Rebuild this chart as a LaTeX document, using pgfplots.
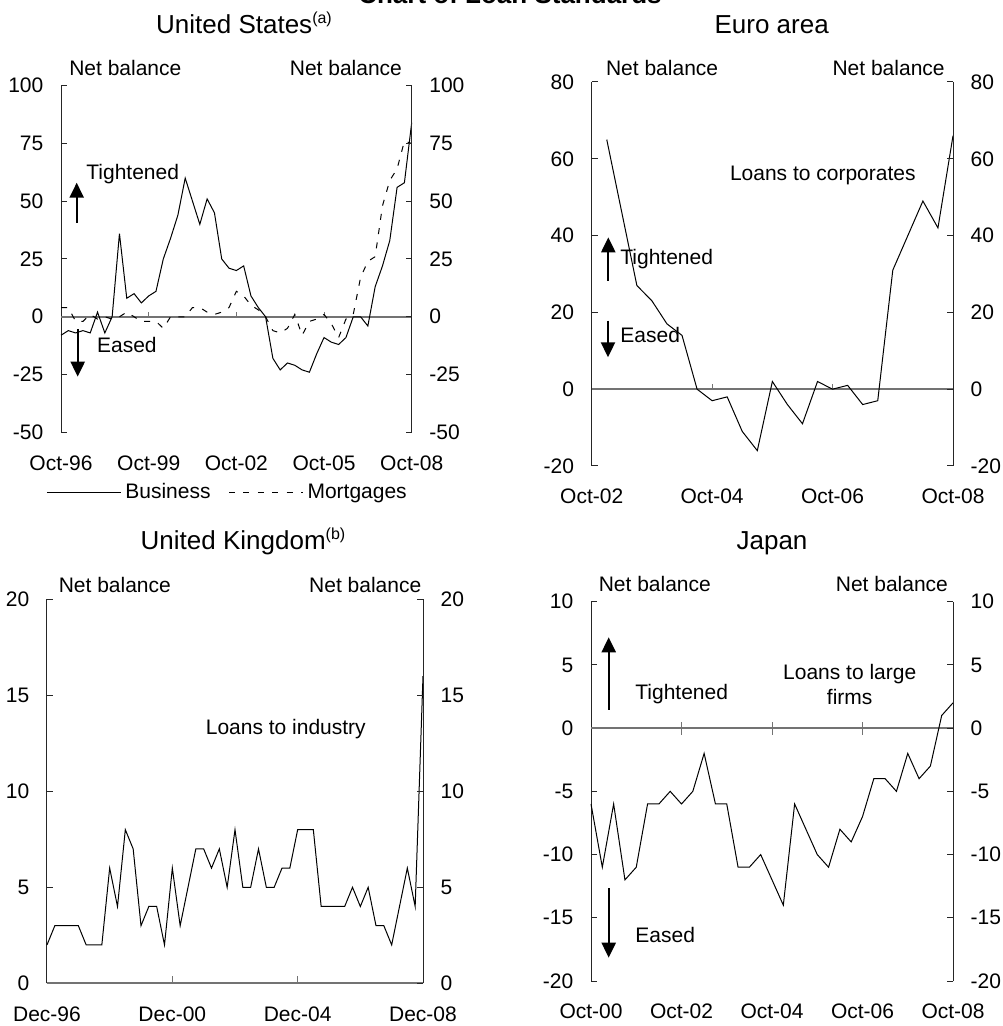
\documentclass[border=0pt]{standalone}
\usepackage{fontspec}
\setmainfont{Liberation Sans}
\usepackage{pgfplots}
\pgfplotsset{compat=1.18}
\usepackage{pgfplotstable}
\usetikzlibrary{arrows.meta}

\newcommand\lab{\fontsize{10.5}{12.6}\selectfont}
\newcommand\ttl{\fontsize{13}{15.6}\selectfont}
\newcommand\note[1]{\raisebox{5pt}{\fontsize{8}{9.6}\selectfont(#1)}}

% United States: quarterly, q=0 is Oct-96, q=48 is Oct-08
\pgfplotstableread{
q bus mort
0 -8 4
1 -6 4
2 -7 -2
3 -6 -2
4 -7 1
5 2 -1
6 -7 0
7 0 -1
8 36 0
9 8 2
10 10 0
11 6 -2
12 9 -2
13 11 -2
14 25 -5
15 34 0
16 44 0
17 60 0
18 50 4
19 40 4
20 51 2
21 45 1
22 25 2
23 21 4
24 20 11
25 22 9
26 9 5
27 4 3
28 0 0
29 -18 -6
30 -23 -7
31 -20 -5
32 -21 1
33 -23 -8
34 -24 -2
35 -16 -1
36 -9 1
37 -11 -3
38 -12 -9
39 -9 -1
40 0 1
41 0 17
42 -4 24
43 13 26
44 22 48
45 33 59
46 56 64
47 58 76
48 84 75
}\usdata

% Euro area: q=0 is Oct-02, q=24 is Oct-08
\pgfplotstableread{
q corp
1 65
2 46
3 27
4 23
5 17
6 14
7 0
8 -3
9 -2
10 -11
11 -16
12 2
13 -4
14 -9
15 2
16 0
17 1
18 -4
19 -3
20 31
21 40
22 49
23 42
24 66
}\eadata

% United Kingdom: q=0 is Dec-96, q=48 is Dec-08
\pgfplotstableread{
q ind
0 2
1 3
2 3
3 3
4 3
5 2
6 2
7 2
8 6
9 4
10 8
11 7
12 3
13 4
14 4
15 2
16 6
17 3
18 5
19 7
20 7
21 6
22 7
23 5
24 8
25 5
26 5
27 7
28 5
29 5
30 6
31 6
32 8
33 8
34 8
35 4
36 4
37 4
38 4
39 5
40 4
41 5
42 3
43 3
44 2
45 4
46 6
47 4
48 16
}\ukdata

% Japan: q=0 is Oct-00, q=32 is Oct-08
\pgfplotstableread{
q large
0 -6
1 -11
2 -6
3 -12
4 -11
5 -6
6 -6
7 -5
8 -6
9 -5
10 -2
11 -6
12 -6
13 -11
14 -11
15 -10
16 -12
17 -14
18 -6
19 -8
20 -10
21 -11
22 -8
23 -9
24 -7
25 -4
26 -4
27 -5
28 -2
29 -4
30 -3
31 1
32 2
}\jpdata

\pgfplotsset{
  panel/.style={
    scale only axis, anchor=south west, clip=false,
    axis y line*=left, axis x line*=bottom,
    x axis line style={draw=none},
    y axis line style={line width=0.5pt, black!85},
    tick align=inside, major tick length=3pt,
    xtick style={draw=none},
    ytick style={line width=0.5pt, black!85},
    tick label style={font=\lab},
    /pgf/number format/assume math mode=true,
    yticklabel style={xshift=-5.3pt},
    xticklabel style={yshift=-8pt},
    cycle list={{black, line width=0.5pt, mark=none}},
  },
  rightside/.style={
    scale only axis, anchor=south west,
    axis y line*=right, axis x line=none,
    y axis line style={line width=0.5pt, black!85},
    tick align=inside, major tick length=3pt,
    ytick style={line width=0.5pt, black!85},
    tick label style={font=\lab},
    /pgf/number format/assume math mode=true,
    yticklabel style={xshift=5.3pt},
  },
}
\tikzset{
  zero/.style={line width=1pt, black!55},
  series/.style={black, line width=0.5pt, mark=none},
  dirarrow/.style={line width=1.1pt, -{Triangle[width=7pt,length=7.5pt]}},
}

\begin{document}
\begin{tikzpicture}
\path[use as bounding box] (0pt,0pt) rectangle (501pt,513pt);

\node[font=\ttl\bfseries, anchor=base] at (255pt,511pt) {Chart of Loan Standards};

% ---------------- United States ----------------
\begin{axis}[panel, at={(30.5pt,296.85pt)}, width=175.35pt, height=173.3pt,
  xmin=0, xmax=48, ymin=-50, ymax=100, ytick={-50,-25,0,25,50,75,100},
  xtick={0,12,24,36,48}, xticklabels={Oct-96,Oct-99,Oct-02,Oct-05,Oct-08},
  legend style={at={(axis description cs:-0.043,-0.135)}, anchor=north west,
    draw=none, fill=none, inner sep=0pt, font=\lab, legend columns=2,
    /tikz/every even column/.append style={column sep=7pt}},
  legend image code/.code={\draw[#1] (0pt,0pt) -- (37pt,0pt);}]
\draw[zero] (axis cs:0,0) -- (axis cs:48,0);
\draw[zero, line width=0.5pt] (axis cs:12,0) -- ++(0pt,2.5pt);
\draw[zero, line width=0.5pt] (axis cs:24,0) -- ++(0pt,2.5pt);
\draw[zero, line width=0.5pt] (axis cs:36,0) -- ++(0pt,2.5pt);
\addplot[series] table[x=q, y=bus] {\usdata};
\addlegendentry{Business}
\addplot[series, dash pattern=on 3pt off 4.2pt] table[x=q, y=mort] {\usdata};
\addlegendentry{Mortgages}
\end{axis}
\begin{axis}[rightside, at={(30.5pt,296.85pt)}, width=175.35pt, height=173.3pt,
  xmin=0, xmax=48, ymin=-50, ymax=100, ytick={-50,-25,0,25,50,75,100}]
\end{axis}
\node[font=\ttl, anchor=base] at (122pt,496pt) {United States\note{a}};
\node[font=\lab, anchor=base west] at (31.1pt,475pt) {Net balance};
\node[font=\lab, anchor=base east] at (204.5pt,475pt) {Net balance};
\draw[dirarrow] (38.35pt,401.5pt) -- (38.35pt,421.65pt);
\node[font=\lab, anchor=base west, inner sep=0pt] at (43pt,423pt) {Tightened};
\draw[dirarrow] (38.85pt,348.5pt) -- (38.85pt,324.65pt);
\node[font=\lab, anchor=base west, inner sep=0pt] at (48.35pt,336.65pt) {Eased};

% ---------------- Euro area ----------------
\begin{axis}[panel, at={(295.85pt,280pt)}, width=180.65pt, height=192pt,
  xmin=0, xmax=24, ymin=-20, ymax=80, ytick={-20,0,20,40,60,80},
  xtick={0,8,16,24}, xticklabels={Oct-02,Oct-04,Oct-06,Oct-08}]
\draw[zero] (axis cs:0,0) -- (axis cs:24,0);
\draw[zero, line width=0.5pt] (axis cs:8,0) -- ++(0pt,2.5pt);
\draw[zero, line width=0.5pt] (axis cs:16,0) -- ++(0pt,2.5pt);
\addplot[series] table[x=q, y=corp] {\eadata};
\end{axis}
\begin{axis}[rightside, at={(295.85pt,280pt)}, width=180.65pt, height=192pt,
  xmin=0, xmax=24, ymin=-20, ymax=80, ytick={-20,0,20,40,60,80}]
\end{axis}
\node[font=\ttl, anchor=base] at (385.85pt,496pt) {Euro area};
\node[font=\lab, anchor=base west] at (299.5pt,475pt) {Net balance};
\node[font=\lab, anchor=base east] at (475.85pt,475pt) {Net balance};
\node[font=\lab, anchor=base] at (411.4pt,422.5pt) {Loans to corporates};
\draw[dirarrow] (304.15pt,372.65pt) -- (304.15pt,394.35pt);
\node[font=\lab, anchor=base west, inner sep=0pt] at (310pt,380.5pt) {Tightened};
\draw[dirarrow] (304pt,352.65pt) -- (304pt,334.35pt);
\node[font=\lab, anchor=base west, inner sep=0pt] at (310pt,341.65pt) {Eased};

% ---------------- United Kingdom ----------------
\begin{axis}[panel, at={(23.5pt,21.35pt)}, width=188pt, height=192pt,
  xmin=0, xmax=48, ymin=0, ymax=20, ytick={0,5,10,15,20},
  xtick={0,16,32,48}, xticklabels={Dec-96,Dec-00,Dec-04,Dec-08}]
\draw[zero] (axis cs:0,0) -- (axis cs:48,0);
\draw[zero, line width=0.5pt] (axis cs:16,0) -- ++(0pt,3.5pt);
\draw[zero, line width=0.5pt] (axis cs:32,0) -- ++(0pt,3.5pt);
\addplot[series] table[x=q, y=ind] {\ukdata};
\end{axis}
\begin{axis}[rightside, at={(23.5pt,21.35pt)}, width=188pt, height=192pt,
  xmin=0, xmax=48, ymin=0, ymax=20, ytick={0,5,10,15,20}]
\end{axis}
\node[font=\ttl, anchor=base] at (121.5pt,238pt) {United Kingdom\note{b}};
\node[font=\lab, anchor=base west] at (25.85pt,216.85pt) {Net balance};
\node[font=\lab, anchor=base east] at (214.15pt,216.85pt) {Net balance};
\node[font=\lab, anchor=base] at (142.9pt,145.85pt) {Loans to industry};

% ---------------- Japan ----------------
\begin{axis}[panel, at={(295.5pt,22.5pt)}, width=181pt, height=189.65pt,
  xmin=0, xmax=32, ymin=-20, ymax=10, ytick={-20,-15,-10,-5,0,5,10},
  xtick={0,8,16,24,32}, xticklabels={Oct-00,Oct-02,Oct-04,Oct-06,Oct-08}]
\draw[zero] (axis cs:0,0) -- (axis cs:32,0);
\draw[zero, line width=0.5pt] (axis cs:8,0) ++(0pt,-3.3pt) -- ++(0pt,6.6pt);
\draw[zero, line width=0.5pt] (axis cs:16,0) ++(0pt,-3.3pt) -- ++(0pt,6.6pt);
\draw[zero, line width=0.5pt] (axis cs:24,0) ++(0pt,-3.3pt) -- ++(0pt,6.6pt);
\addplot[series] table[x=q, y=large] {\jpdata};
\end{axis}
\begin{axis}[rightside, at={(295.5pt,22.5pt)}, width=181pt, height=189.65pt,
  xmin=0, xmax=32, ymin=-20, ymax=10, ytick={-20,-15,-10,-5,0,5,10}]
\end{axis}
\node[font=\ttl, anchor=base] at (386pt,238pt) {Japan};
\node[font=\lab, anchor=base west] at (295.85pt,217.15pt) {Net balance};
\node[font=\lab, anchor=base east] at (477.5pt,217.15pt) {Net balance};
\node[font=\lab, anchor=base] at (424.85pt,173pt) {Loans to large};
\node[font=\lab, anchor=base] at (424.85pt,160.5pt) {firms};
\draw[dirarrow] (304.35pt,158pt) -- (304.35pt,194.35pt);
\node[font=\lab, anchor=base west, inner sep=0pt] at (317.5pt,163.35pt) {Tightened};
\draw[dirarrow] (304.35pt,68.85pt) -- (304.35pt,34.15pt);
\node[font=\lab, anchor=base west, inner sep=0pt] at (317.5pt,41.65pt) {Eased};
\end{tikzpicture}
\end{document}
